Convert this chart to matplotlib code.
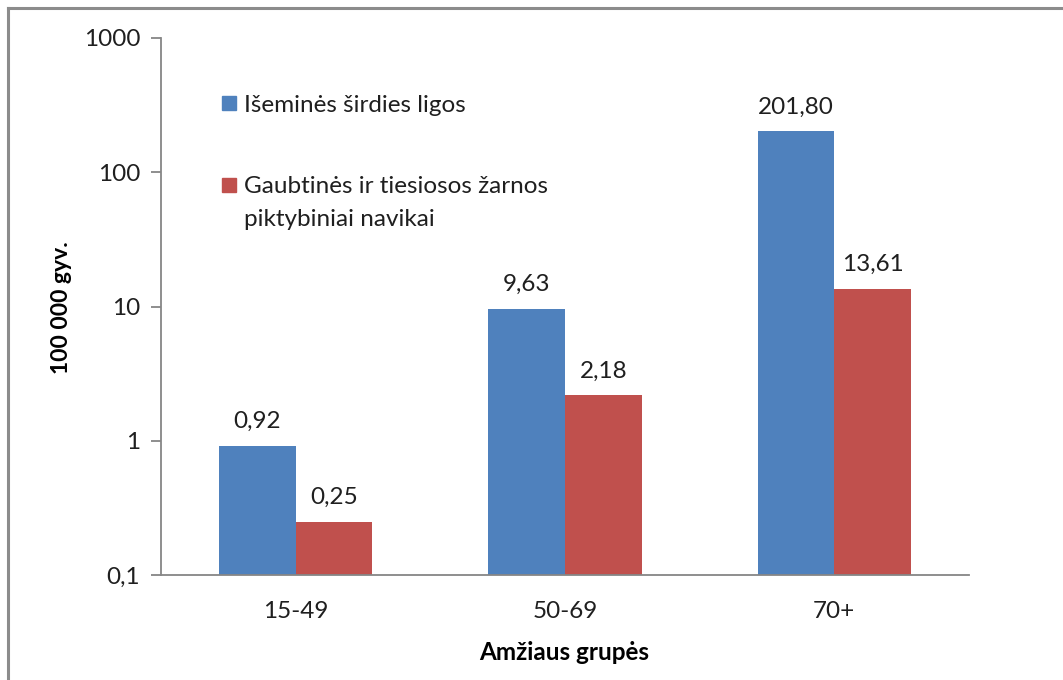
import numpy as np
import matplotlib.pyplot as plt
from matplotlib.lines import Line2D
from matplotlib.patches import Rectangle
from matplotlib.ticker import FixedLocator, NullLocator

plt.rcParams["font.family"] = ["Lato", "DejaVu Sans"]

# data
groups = ["15-49", "50-69", "70+"]
ischemic = [0.92, 9.63, 201.80]
colorectal = [0.25, 2.18, 13.61]
series_names = [
    "Išeminės širdies ligos",
    "Gaubtinės ir tiesiosos žarnos\npiktybiniai navikai",
]
y_ticks = [0.1, 1, 10, 100, 1000]
y_tick_labels = ["0,1", "1", "10", "100", "1000"]

blue = "#4F81BD"
red = "#C0504D"
axis_gray = "#868686"
txt = "#1f1f1f"
fs = 17.5

W, H = 1063, 680
fig = plt.figure(figsize=(W / 100, H / 100), dpi=100)
ax = fig.add_axes([161 / W, 1 - 575 / H, (969 - 161) / W, (575 - 38) / H])

x = np.arange(len(groups))
w = 0.285
b1 = ax.bar(x - w / 2, ischemic, w, color=blue, zorder=2)
b2 = ax.bar(x + w / 2, colorectal, w, color=red, zorder=2)

ax.set_yscale("log")
ax.set_ylim(0.1, 1000)
ax.set_xlim(-0.5, 2.5)
ax.yaxis.set_major_locator(FixedLocator(y_ticks))
ax.yaxis.set_minor_locator(NullLocator())
ax.set_yticklabels(y_tick_labels)
ax.set_xticks(x)
ax.set_xticklabels(groups)

# value labels above the bars
for bars, vals in ((b1, ischemic), (b2, colorectal)):
    for bar, v in zip(bars, vals):
        ax.annotate(
            f"{v:.2f}".replace(".", ","),
            (bar.get_x() + bar.get_width() / 2, v),
            xytext=(0, 10),
            textcoords="offset points",
            ha="center",
            va="bottom",
            fontsize=fs,
            color=txt,
        )

for s in ["top", "right"]:
    ax.spines[s].set_visible(False)
for s in ["left", "bottom"]:
    ax.spines[s].set_color(axis_gray)
    ax.spines[s].set_linewidth(1.3)
ax.tick_params(axis="y", length=7, width=1.3, color=axis_gray, labelsize=fs, pad=8, labelcolor=txt)
ax.tick_params(axis="x", length=0, labelsize=fs, pad=19, labelcolor=txt)

ax.set_ylabel("100 000 gyv.", fontsize=16.5, fontweight="bold", color="black")
ax.yaxis.label.set_va("center")
ax.yaxis.set_label_coords(-100 / 808, (575 - 308) / 537)
ax.set_xlabel("Amžiaus grupės", fontsize=17.5, fontweight="bold", color="black")
ax.xaxis.label.set_va("center")
ax.xaxis.set_label_coords((564 - 161) / 808, -(652 - 575) / 537)

# legend drawn by hand so the squares line up with the first text line
legend_colors = [blue, red]
legend_y = [103, 185]
for name, col, yc in zip(series_names, legend_colors, legend_y):
    fig.add_artist(Rectangle((222 / W, 1 - (yc + 7) / H), 14 / W, 14 / H,
                             transform=fig.transFigure, color=col))
    for i, line in enumerate(name.split("\n")):
        fig.text(244 / W, 1 - (yc + 32 * i) / H, line, fontsize=fs, color=txt,
                 ha="left", va="center_baseline")

# outer chart frame (only left and top edges show in the picture)
fig.add_artist(Line2D([8 / W, 8 / W], [0.0, 1 - 8 / H], transform=fig.transFigure, color="#8c8c8c", lw=2.2))
fig.add_artist(Line2D([8 / W, 1.0], [1 - 8 / H, 1 - 8 / H], transform=fig.transFigure, color="#8c8c8c", lw=2.2))

fig.savefig("out.png", dpi=100)
